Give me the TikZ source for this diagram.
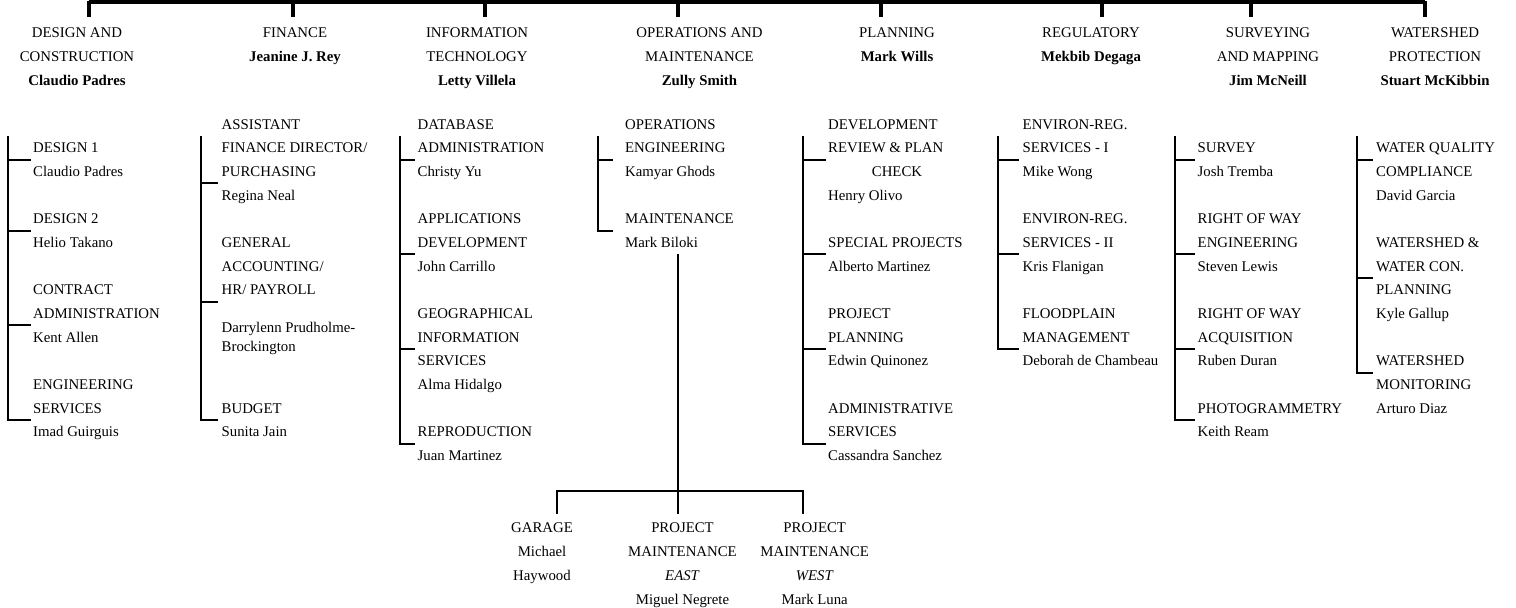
\documentclass[tikz,border=0pt]{standalone}
\usepackage{fontspec}
\setmainfont{Liberation Serif}
\tikzset{
  lbl/.style={anchor=base west, inner sep=0pt, font=\fontsize{14.8}{17}\selectfont},
  hdr/.style={anchor=base, inner sep=0pt, font=\fontsize{14.8}{17}\selectfont},
  ctr/.style={anchor=base, inner sep=0pt, font=\fontsize{14.8}{17}\selectfont},
  ln/.style={line width=2pt},
  bar/.style={line width=4pt},
}
% block of lines: name, x, start row, lines
\newcommand\blk[4]{\foreach \t [count=\i from 0] in {#4} {\node[lbl] (#1-\i) at (#2,{152.9+23.65*(#3+\i)}) {\t};}}
% header: name, x, lines
\newcommand\hblk[3]{\foreach \t [count=\i from 0] in {#3} {\node[hdr] (#1-\i) at (#2,{37.4+24*\i}) {\t};}}
% spine: name, x, end x, last row, list of branch rows
\newcommand\spine[5]{%
  \coordinate (#1-top) at (#2,136.2);
  \coordinate (#1-bot) at (#2,{148+23.65*#4});
  \draw[ln] (#1-top) -- (#1-bot);
  \foreach \r [count=\k] in {#5} {
    \coordinate (#1-s\k) at (#2,{148+23.65*\r});
    \coordinate (#1-e\k) at (#3,{148+23.65*\r});
    \draw[ln] ([xshift=-1pt]#1-s\k) -- (#1-e\k);
  }}
\begin{document}
\begin{tikzpicture}[x=1pt,y=-1pt]
\useasboundingbox (0,0) rectangle (1516,608);
% top bar
\coordinate (t1) at (88.5,2); \coordinate (t8) at (1425,2);
\draw[bar] (t1) -- (t8);
\foreach \x [count=\k] in {88.5,292.5,485,678,881,1102,1251,1425} {
  \coordinate (tk\k) at (\x,0.5);
  \coordinate (tb\k) at (\x,17);
  \draw[bar] (tk\k) -- (tb\k);
}
% headers
\hblk{h1}{77}{DESIGN AND,CONSTRUCTION,\textbf{Claudio Padres}}
\hblk{h2}{295}{FINANCE,\textbf{Jeanine J. Rey}}
\hblk{h3}{477}{INFORMATION,TECHNOLOGY,\textbf{Letty Villela}}
\hblk{h4}{699.5}{OPERATIONS AND,MAINTENANCE,\textbf{Zully Smith}}
\hblk{h5}{897}{PLANNING,\textbf{Mark Wills}}
\hblk{h6}{1091}{REGULATORY,\textbf{Mekbib Degaga}}
\hblk{h7}{1268}{SURVEYING,AND MAPPING,\textbf{Jim McNeill}}
\hblk{h8}{1435}{WATERSHED,PROTECTION,\textbf{Stuart McKibbin}}
% column 1
\spine{c1}{8}{31}{11.5}{0.5,3.5,7.5,11.5}
\blk{a1}{33}{0}{DESIGN 1,Claudio Padres}
\blk{a2}{33}{3}{DESIGN 2,Helio Takano}
\blk{a3}{33}{6}{CONTRACT,ADMINISTRATION,Kent Allen}
\blk{a4}{33}{10}{ENGINEERING,SERVICES,Imad Guirguis}
% column 2
\spine{c2}{201}{218}{11.5}{1.5,6.5,11.5}
\blk{b1}{221.5}{-1}{ASSISTANT,FINANCE DIRECTOR/,PURCHASING,Regina Neal}
\blk{b2}{221.5}{4}{GENERAL,ACCOUNTING/,HR/ PAYROLL}
\node[lbl] (b2n1) at (221.5,332.6) {Darrylenn Prudholme-};
\node[lbl] (b2n2) at (221.5,351) {Brockington};
\blk{b3}{221.5}{11}{BUDGET,Sunita Jain}
% column 3
\spine{c3}{400}{415}{12.5}{0.5,4.5,8.5,12.5}
\blk{d1}{417.5}{-1}{DATABASE,ADMINISTRATION,Christy Yu}
\blk{d2}{417.5}{3}{APPLICATIONS,DEVELOPMENT,John Carrillo}
\blk{d3}{417.5}{7}{GEOGRAPHICAL,INFORMATION,SERVICES,Alma Hidalgo}
\blk{d4}{417.5}{12}{REPRODUCTION,Juan Martinez}
% column 4
\spine{c4}{597.5}{613.3}{3.5}{0.5,3.5}
\blk{o1}{625}{-1}{OPERATIONS,ENGINEERING,Kamyar Ghods}
\blk{o2}{625}{3}{MAINTENANCE,Mark Biloki}
% maintenance sub-tree
\coordinate (m-top) at (678,254);
\coordinate (m-mid) at (678,491);
\coordinate (m-l) at (557,491);
\coordinate (m-r) at (803,491);
\coordinate (m-lb) at (557,513.5);
\coordinate (m-mb) at (678,513.5);
\coordinate (m-rb) at (803,513.5);
\draw[ln] (m-top) -- (m-mb);
\draw[ln] (m-lb) -- (m-l) -- (m-r) -- (m-rb);
\foreach \t [count=\i from 0] in {GARAGE,Michael,Haywood} {\node[ctr] (g\i) at (542,{532.2+24*\i}) {\t};}
\foreach \t [count=\i from 0] in {PROJECT,MAINTENANCE,\textit{EAST},Miguel Negrete} {\node[ctr] (pe\i) at (682.5,{532.2+24*\i}) {\t};}
\foreach \t [count=\i from 0] in {PROJECT,MAINTENANCE,\textit{WEST},Mark Luna} {\node[ctr] (pw\i) at (814.7,{532.2+24*\i}) {\t};}
% column 5
\spine{c5}{803}{825.7}{12.5}{0.5,4.5,8.5,12.5}
\blk{p1}{828}{-1}{DEVELOPMENT,REVIEW \& PLAN}
\node[ctr] (p1c) at (897,{152.9+23.65}) {CHECK};
\node[lbl] (p1n) at (828,{152.9+23.65*2}) {Henry Olivo};
\blk{p2}{828}{4}{SPECIAL PROJECTS,Alberto Martinez}
\blk{p3}{828}{7}{PROJECT,PLANNING,Edwin Quinonez}
\blk{p4}{828}{11}{ADMINISTRATIVE,SERVICES,Cassandra Sanchez}
% column 6
\spine{c6}{998}{1019.3}{8.5}{0.5,4.5,8.5}
\blk{r1}{1022.5}{-1}{ENVIRON-REG.,SERVICES - I,Mike Wong}
\blk{r2}{1022.5}{3}{ENVIRON-REG.,SERVICES - II,Kris Flanigan}
\blk{r3}{1022.5}{7}{FLOODPLAIN,MANAGEMENT,Deborah de Chambeau}
% column 7
\spine{c7}{1175}{1195}{11.5}{0.5,4.5,8.5,11.5}
\blk{s1}{1197.5}{0}{SURVEY,Josh Tremba}
\blk{s2}{1197.5}{3}{RIGHT OF WAY,ENGINEERING,Steven Lewis}
\blk{s3}{1197.5}{7}{RIGHT OF WAY,ACQUISITION,Ruben Duran}
\blk{s4}{1197.5}{11}{PHOTOGRAMMETRY,Keith Ream}
% column 8
\spine{c8}{1356.5}{1372.7}{9.5}{0.5,5.5,9.5}
\blk{w1}{1376}{0}{WATER QUALITY,COMPLIANCE,David Garcia}
\blk{w2}{1376}{4}{WATERSHED \&,WATER CON.,PLANNING,Kyle Gallup}
\blk{w3}{1376}{9}{WATERSHED,MONITORING,Arturo Diaz}
\end{tikzpicture}
\end{document}
